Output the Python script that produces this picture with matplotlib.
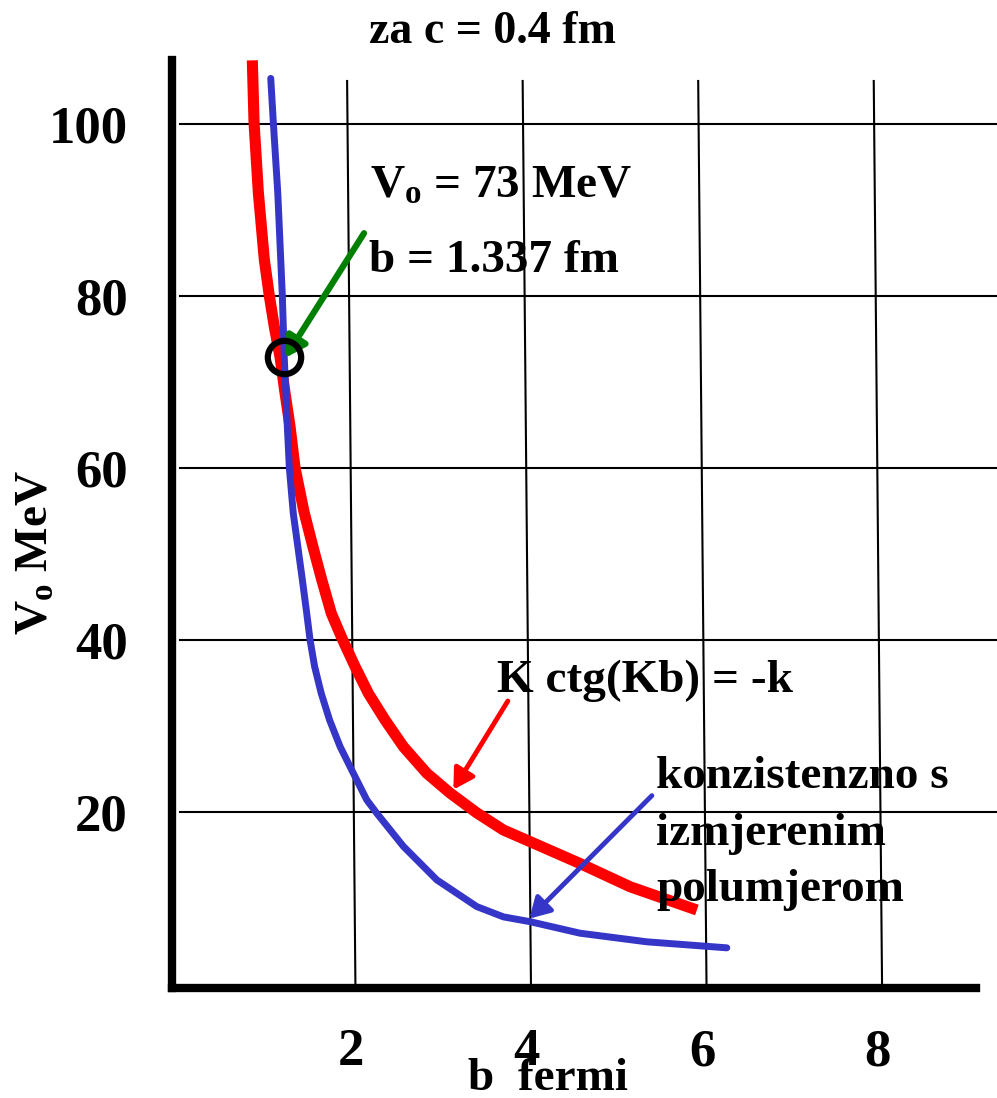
import matplotlib
matplotlib.use("Agg")
import matplotlib.pyplot as plt

plt.rcParams['font.family'] = ['Liberation Serif', 'DejaVu Serif']
plt.rcParams['font.weight'] = 'bold'
plt.rcParams['mathtext.fontset'] = 'custom'
plt.rcParams['mathtext.rm'] = 'Liberation Serif:bold'
plt.rcParams['mathtext.it'] = 'Liberation Serif:bold'
plt.rcParams['mathtext.bf'] = 'Liberation Serif:bold'

# K ctg(Kb) = -k  (red)
b_red = [0.875, 0.895, 0.944, 1.012, 1.069, 1.126, 1.191, 1.248, 1.305, 1.362,
         1.464, 1.564, 1.666, 1.775, 1.905, 2.046, 2.197, 2.387, 2.596, 2.863,
         3.128, 3.432, 3.736, 4.040, 4.610, 5.180, 5.940]
V_red = [107.4, 100.1, 92.0, 84.2, 80.0, 76.4, 72.9, 68.7, 64.8, 60.0,
         54.9, 50.9, 47.0, 43.1, 40.0, 36.9, 33.8, 30.7, 27.6, 24.5,
         22.2, 19.9, 17.9, 16.55, 14.0, 11.3, 8.6]

# konzistentno s izmjerenim polumjerom (blue)
b_blue = [1.085, 1.115, 1.165, 1.199, 1.217, 1.240, 1.274, 1.297, 1.342, 1.393,
          1.445, 1.495, 1.533, 1.585, 1.660, 1.755, 1.875, 2.026, 2.179, 2.293,
          2.596, 2.977, 3.432, 3.736, 4.040, 4.610, 5.370, 6.281]
V_blue = [105.3, 100.1, 92.0, 84.2, 80.0, 72.6, 64.8, 60.0, 54.7, 50.9,
          47.0, 43.1, 40.0, 36.9, 33.8, 30.7, 27.6, 24.5, 21.4, 19.85,
          16.0, 12.1, 9.0, 7.8, 7.24, 5.9, 4.9, 4.2]

# presjek
b_sol = 1.236
V_sol = 72.9

b_ticks = [2, 4, 6, 8]
V_ticks = [20, 40, 60, 80, 100]

W, H = 997, 1098
fig = plt.figure(figsize=(W / 100, H / 100), dpi=100)
ax = fig.add_axes([172 / W, 110 / H, 804 / W, 928 / H])
ax.set_xlim(-0.04, 9.12)
ax.set_ylim(-0.47, 107.44)

# rucno nacrtana mreza (malo nakrivljene okomite linije)
for v in V_ticks:
    ax.plot([0.05, 9.36], [v, v], color='black', lw=1.5, clip_on=False, zorder=1)
for b in b_ticks:
    ax.plot([b - 0.045, b + 0.05], [105.0, -0.47], color='black', lw=1.5,
            clip_on=False, zorder=1)

ax.plot(b_red, V_red, color='#ff0000', lw=8, solid_capstyle='butt',
        solid_joinstyle='round', zorder=3)
ax.plot(b_blue, V_blue, color='#3535c8', lw=5, solid_capstyle='round',
        solid_joinstyle='round', zorder=4)

arrow = dict(arrowstyle='-|>,head_length=0.6,head_width=0.35', mutation_scale=20,
             lw=3.5, shrinkA=0, shrinkB=0)
ax.annotate('', xy=(1.248, 72.8), xytext=(2.148, 87.3),
            arrowprops=dict(arrow, color='#008000', lw=4.5), zorder=5)
ax.annotate('', xy=(3.166, 22.6), xytext=(3.786, 32.9),
            arrowprops=dict(arrow, color='#ff0000'), zorder=5)
ax.annotate('', xy=(4.032, 7.6), xytext=(5.427, 21.9),
            arrowprops=dict(arrow, color='#3535c8'), zorder=5)

ax.plot(b_sol, V_sol, 'o', ms=24, mfc='none', mec='black', mew=4.5, zorder=6)

ax.text(2.216, 91.4, '$V_o$ = 73 MeV', fontsize=34, va='baseline')
ax.text(2.205, 82.8, 'b = 1.337 fm', fontsize=34, va='baseline')
ax.text(3.664, 33.95, 'K ctg(Kb) = -k', fontsize=34, va='baseline')
lines = ['konzistenzno s', 'izmjerenim', 'polumjerom']
for i, s in enumerate(lines):
    ax.text(5.476, 22.8 - i * 6.6, s, fontsize=34, va='baseline')

for side in ['top', 'right']:
    ax.spines[side].set_visible(False)
for side in ['left', 'bottom']:
    ax.spines[side].set_linewidth(6)
    ax.spines[side].set_capstyle('projecting')

ax.set_xticks(b_ticks)
ax.set_yticks(V_ticks)
ax.tick_params(axis='x', length=0, pad=29, labelsize=38)
ax.tick_params(axis='y', length=0, pad=32, labelsize=38)

fig.text(492 / W, 1 - 43 / H, 'za c = 0.4 fm', ha='center', va='baseline', fontsize=33)
fig.text(548 / W, 1 - 1090 / H, 'b  fermi', ha='center', va='baseline', fontsize=34)
fig.text(37 / W, 1 - 553 / H, '$V_o$ MeV', rotation=90, ha='center', va='center',
         fontsize=34)

fig.savefig('out.png', dpi=100)
